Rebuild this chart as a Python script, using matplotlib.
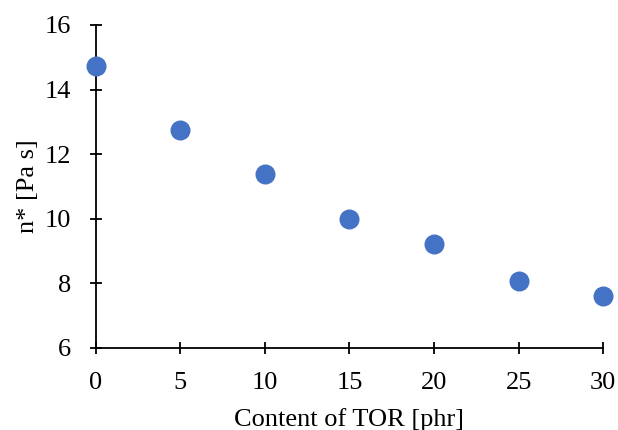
import matplotlib.pyplot as plt

# data
tor_content = [0, 5, 10, 15, 20, 25, 30]
viscosity = [14.72, 12.76, 11.39, 10.0, 9.22, 8.07, 7.6]

plt.rcParams['font.family'] = ['Liberation Serif', 'DejaVu Serif']
plt.rcParams['font.size'] = 19

fig = plt.figure(figsize=(6.18, 4.30), dpi=100)
ax = fig.add_axes([0.155, 0.191, 0.821, 0.751])

ax.scatter(tor_content, viscosity, s=180, color='#4472C4', zorder=3, clip_on=False)

ax.set_xlim(0, 30)
ax.set_ylim(6, 16)
ax.set_xticks(range(0, 31, 5))
ax.set_yticks(range(6, 17, 2))
ax.tick_params(direction='inout', length=9, width=1.3)
ax.tick_params(axis='x', pad=13)
ax.tick_params(axis='y', pad=13)

ax.spines['top'].set_visible(False)
ax.spines['right'].set_visible(False)
ax.spines['left'].set_linewidth(1.3)
ax.spines['bottom'].set_linewidth(1.3)

ax.set_xlabel('Content of TOR [phr]', labelpad=10)
ax.set_ylabel('n* [Pa s]', labelpad=4)

fig.savefig('out.png', dpi=100)
